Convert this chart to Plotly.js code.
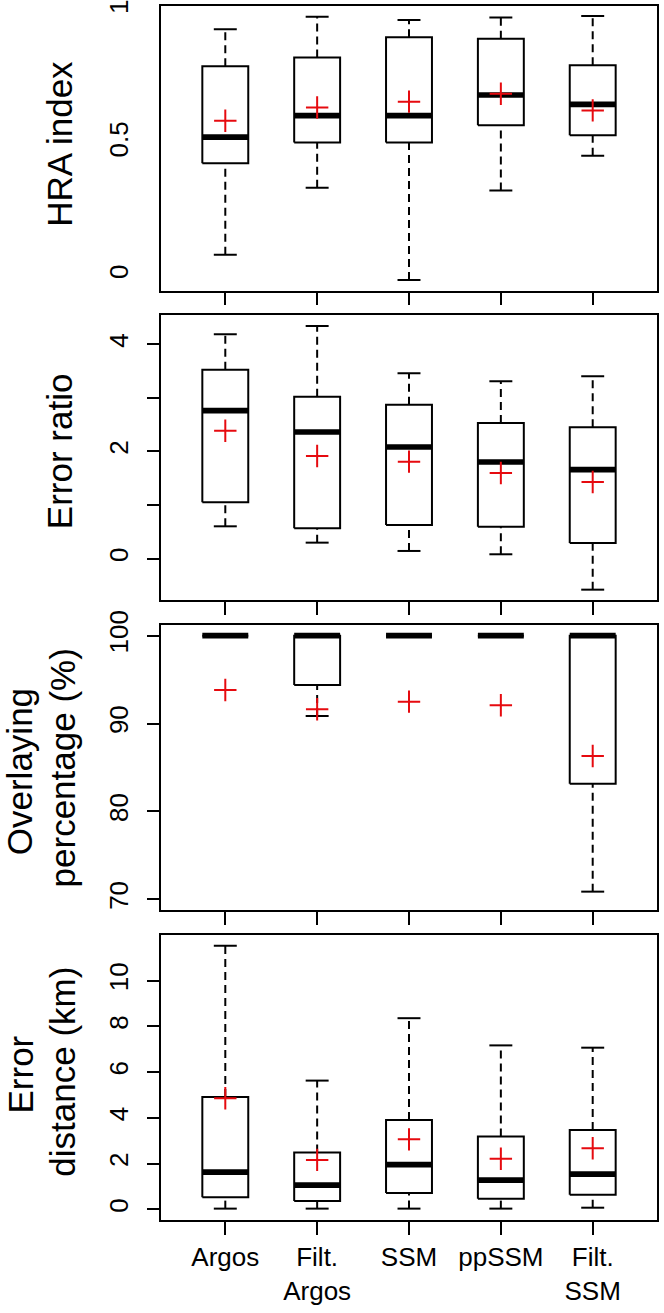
<!DOCTYPE html>
<html><head><meta charset="utf-8">
<script src="https://cdn.plot.ly/plotly-3.0.1.min.js"></script>
<style>html,body{margin:0;padding:0;background:#fff}#chart{width:664px;height:1313px}</style>
</head><body><div id="chart"></div>
<script>
// ---------- data ----------
const categories = ['Argos', 'Filt.<br>Argos', 'SSM', 'ppSSM', 'Filt.<br>SSM'];

const hra_lower  = [0.079, 0.332, -0.016, 0.322, 0.453];
const hra_q1     = [0.424, 0.503, 0.503, 0.568, 0.530];
const hra_median = [0.523, 0.604, 0.604, 0.682, 0.647];
const hra_q3     = [0.791, 0.824, 0.900, 0.894, 0.794];
const hra_upper  = [0.930, 0.977, 0.965, 0.975, 0.980];
const hra_mean   = [0.585, 0.635, 0.657, 0.687, 0.624];
const hra_tick_marks = [0, 0.35, 0.70];
const hra_label_vals = [0, 0.5, 1];
const hra_label_text = ['0', '0.5', '1'];

const ratio_lower  = [0.604, 0.299, 0.144, 0.082, -0.578];
const ratio_q1     = [1.052, 0.567, 0.629, 0.597, 0.293];
const ratio_median = [2.761, 2.364, 2.084, 1.804, 1.660];
const ratio_q3     = [3.526, 3.022, 2.873, 2.532, 2.451];
const ratio_upper  = [4.187, 4.341, 3.459, 3.310, 3.403];
const ratio_mean   = [2.388, 1.916, 1.810, 1.599, 1.431];
const ratio_tick_vals = [0, 1, 2, 3, 4];
const ratio_tick_text = ['0', '', '2', '', '4'];

const overlap_lower  = [100, 90.86, 100, 100, 70.87];
const overlap_q1     = [100, 94.39, 100, 100, 83.16];
const overlap_median = [100, 100, 100, 100, 100];
const overlap_q3     = [100, 100, 100, 100, 100];
const overlap_upper  = [100, 100, 100, 100, 100];
const overlap_mean   = [93.82, 91.62, 92.49, 92.08, 86.31];
const overlap_tick_vals = [70, 80, 90, 100];
const overlap_tick_text = ['70', '80', '90', '100'];

const dist_lower  = [0.03, 0.03, 0.03, 0.03, 0.07];
const dist_q1     = [0.525, 0.36, 0.71, 0.46, 0.64];
const dist_median = [1.63, 1.06, 1.95, 1.28, 1.54];
const dist_q3     = [4.91, 2.48, 3.91, 3.18, 3.47];
const dist_upper  = [11.53, 5.63, 8.36, 7.17, 7.07];
const dist_mean   = [4.86, 2.16, 3.06, 2.21, 2.67];
const dist_tick_vals = [0, 2, 4, 6, 8, 10];
const dist_tick_text = ['0', '2', '4', '6', '8', '10'];

// ---------- layout geometry ----------
const W = 664, H = 1313;
const M = {l: 160.7, r: 6.5, t: 6, b: 93};
const plotW = W - M.l - M.r, plotH = H - M.t - M.b;
const px2x = px => (px - M.l) / plotW;
const px2y = py => (H - M.b - py) / plotH;
const FONT = 'Liberation Sans, Arial, sans-serif';
const HALF = 0.25, CAP = 0.125;
const RED = 'rgb(230,10,15)';

const panels = [
  {lower: hra_lower, q1: hra_q1, median: hra_median, q3: hra_q3, upper: hra_upper, mean: hra_mean,
   top: 6, bottom: 290.7, range: [-0.0566, 1.018],
   tickvals: hra_label_vals, ticktext: hra_label_text, hraTicks: true,
   title: [{text: 'HRA index', cx: 59, cy: 143.3}]},
  {lower: ratio_lower, q1: ratio_q1, median: ratio_median, q3: ratio_q3, upper: ratio_upper, mean: ratio_mean,
   top: 315.3, bottom: 600, range: [-0.771, 4.541],
   tickvals: ratio_tick_vals, ticktext: ratio_tick_text,
   title: [{text: 'Error ratio', cx: 59, cy: 450.7}]},
  {lower: overlap_lower, q1: overlap_q1, median: overlap_median, q3: overlap_q3, upper: overlap_upper, mean: overlap_mean,
   top: 625.3, bottom: 910, range: [68.78, 101.18],
   tickvals: overlap_tick_vals, ticktext: overlap_tick_text,
   title: [{text: 'Overlaying', cx: 19, cy: 771.7}, {text: 'percentage (%)', cx: 62.5, cy: 767.5}]},
  {lower: dist_lower, q1: dist_q1, median: dist_median, q3: dist_q3, upper: dist_upper, mean: dist_mean,
   top: 935.3, bottom: 1220, range: [-0.468, 11.986],
   tickvals: dist_tick_vals, ticktext: dist_tick_text,
   title: [{text: 'Error', cx: 19, cy: 1075}, {text: 'distance (km)', cx: 62.5, cy: 1071.7}]}
];

const traces = [];
const layout = {
  width: W, height: H, margin: M, showlegend: false,
  paper_bgcolor: '#fff', plot_bgcolor: '#fff',
  font: {family: FONT, color: '#000'},
  annotations: []
};

panels.forEach((p, k) => {
  const n = k + 1;
  const xa = n === 1 ? 'x' : 'x' + n, ya = n === 1 ? 'y' : 'y' + n;
  const xk = n === 1 ? 'xaxis' : 'xaxis' + n, yk = n === 1 ? 'yaxis' : 'yaxis' + n;
  const bx = [], by = [], wx = [], wy = [], cx = [], cy = [], mx = [], my = [], px = [];
  categories.forEach((c, i) => {
    const x = i + 1;
    px.push(x);
    bx.push(x - HALF, x + HALF, x + HALF, x - HALF, x - HALF, null);
    by.push(p.q1[i], p.q1[i], p.q3[i], p.q3[i], p.q1[i], null);
    if (p.upper[i] > p.q3[i]) { wx.push(x, x, null); wy.push(p.q3[i], p.upper[i], null); }
    if (p.lower[i] < p.q1[i]) { wx.push(x, x, null); wy.push(p.lower[i], p.q1[i], null); }
    cx.push(x - CAP, x + CAP, null, x - CAP, x + CAP, null);
    cy.push(p.upper[i], p.upper[i], null, p.lower[i], p.lower[i], null);
    mx.push(x - HALF, x + HALF, null);
    my.push(p.median[i], p.median[i], null);
  });
  const common = {xaxis: xa, yaxis: ya, hoverinfo: 'skip', type: 'scatter'};
  traces.push(Object.assign({x: wx, y: wy, mode: 'lines', line: {color: '#000', width: 2, dash: '8px,5px'}}, common));
  traces.push(Object.assign({x: cx, y: cy, mode: 'lines', line: {color: '#000', width: 2}}, common));
  traces.push(Object.assign({x: bx, y: by, mode: 'lines', line: {color: '#000', width: 2}}, common));
  traces.push(Object.assign({x: mx, y: my, mode: 'lines', line: {color: '#000', width: 5.7}}, common));
  traces.push(Object.assign({x: px, y: p.mean, mode: 'markers',
    marker: {symbol: 'cross-thin', size: 16, color: RED, line: {color: RED, width: 2}}}, common));

  const dom = [px2y(p.bottom), px2y(p.top)];
  layout[xk] = {
    domain: [0, 1], anchor: ya, range: [0.3, 5.7],
    tickmode: 'array', tickvals: categories.map((c, i) => i + 1), ticktext: categories,
    showticklabels: n === 4, tickfont: {size: 26, family: FONT, color: '#000'},
    ticks: 'outside', ticklen: 12.6, tickwidth: 2, tickcolor: '#000',
    showline: true, mirror: true, linewidth: 2, linecolor: '#000',
    showgrid: false, zeroline: false, fixedrange: true
  };
  layout[yk] = {
    domain: dom, anchor: xa, range: p.range,
    tickmode: 'array', tickvals: p.tickvals, ticktext: p.ticktext,
    tickangle: -90, tickfont: {size: 26, family: FONT, color: '#000'},
    ticklabeloverflow: 'allow', ticklabelstandoff: 8,
    ticks: 'outside', ticklen: 12.4, tickwidth: 2,
    tickcolor: p.hraTicks ? 'rgba(0,0,0,0)' : '#000',
    showline: true, mirror: true, linewidth: 2, linecolor: '#000',
    showgrid: false, zeroline: false, fixedrange: true
  };
  p.title.forEach(t => {
    layout.annotations.push({
      text: t.text, xref: 'paper', yref: 'paper', x: px2x(t.cx), y: px2y(t.cy),
      xanchor: 'center', yanchor: 'middle', textangle: -90, showarrow: false,
      font: {size: 35, family: FONT, color: '#000'}
    });
  });
});

// tick marks for the HRA panel (drawn at their own positions, labels are separate)
layout.yaxis5 = {
  overlaying: 'y', anchor: 'x', side: 'left', range: panels[0].range,
  tickmode: 'array', tickvals: hra_tick_marks, showticklabels: false,
  ticks: 'outside', ticklen: 12.4, tickwidth: 2, tickcolor: '#000',
  showline: false, showgrid: false, zeroline: false, fixedrange: true
};

Plotly.newPlot('chart', traces, layout, {displayModeBar: false, staticPlot: true});
</script>
</body></html>
